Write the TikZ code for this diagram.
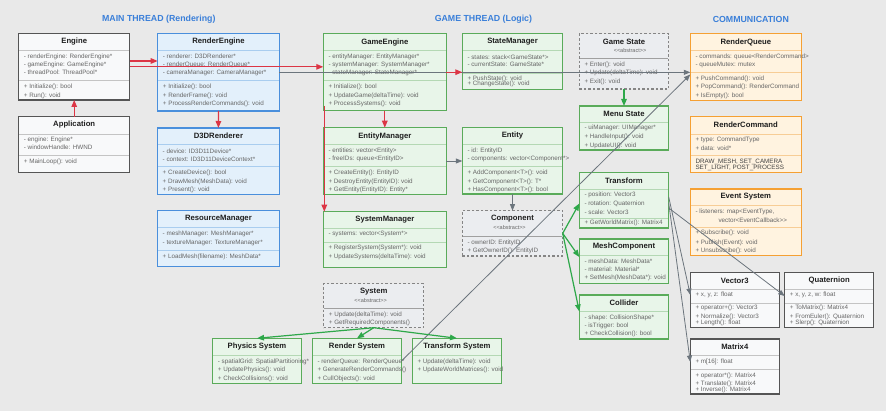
\documentclass[tikz,border=0pt]{standalone}
\usepackage{fontspec}
\setmainfont{Liberation Sans}
\usetikzlibrary{arrows.meta}
\definecolor{bg}{HTML}{E9E9E9}
\definecolor{cgrayB}{HTML}{555555}\definecolor{cgrayF}{HTML}{F8F9FA}\definecolor{cgrayD}{HTML}{C4C4C4}
\definecolor{cblueB}{HTML}{4A8FDC}\definecolor{cblueF}{HTML}{E3F0FB}\definecolor{cblueD}{HTML}{A9CDEF}
\definecolor{cgreenB}{HTML}{5AAB5A}\definecolor{cgreenF}{HTML}{E8F5E9}\definecolor{cgreenD}{HTML}{B4D8B4}
\definecolor{corangeB}{HTML}{F5A033}\definecolor{corangeF}{HTML}{FFF3E0}\definecolor{corangeD}{HTML}{F7CD96}
\definecolor{cabsB}{HTML}{858585}\definecolor{cabsF}{HTML}{EBEDF0}\definecolor{cabsD}{HTML}{A0A0A0}
\definecolor{cred}{HTML}{DC3545}\definecolor{cgreenA}{HTML}{2EA84A}\definecolor{cgrayA}{HTML}{6C757D}
\definecolor{chead}{HTML}{3A7FD9}\definecolor{ctxt}{HTML}{1E1E1E}\definecolor{cln}{HTML}{666666}
\tikzset{
  cbase/.style={line width=1.1pt, inner sep=0pt, outer sep=0pt, anchor=north west, rectangle},
  grayc/.style={cbase, draw=cgrayB, fill=cgrayF},
  bluec/.style={cbase, draw=cblueB, fill=cblueF},
  greenc/.style={cbase, draw=cgreenB, fill=cgreenF},
  orangec/.style={cbase, draw=corangeB, fill=corangeF},
  absc/.style={cbase, draw=cabsB, fill=cabsF, dash pattern=on 2.5pt off 2pt},
  ttl/.style={font=\bfseries\fontsize{7.7}{8}\selectfont, text=ctxt, inner sep=0pt},
  head/.style={font=\bfseries\fontsize{8.8}{10}\selectfont, text=chead, inner sep=0pt},
  ln/.style={font=\fontsize{6.3}{7}\selectfont, text=cln, inner sep=0pt, anchor=west},
  lnd/.style={font=\fontsize{6.3}{7}\selectfont, text=ctxt!85, inner sep=0pt, anchor=west},
  abst/.style={font=\fontsize{5.5}{6}\selectfont, text=cln, inner sep=0pt},
  redarr/.style={draw=cred, line width=1.3pt, -{Triangle[length=7pt,width=5.5pt]}},
  grayarr/.style={draw=cgrayA, line width=0.8pt, -{Triangle[length=6.5pt,width=5pt]}},
  greenarr/.style={draw=cgreenA, line width=1.2pt, -{Triangle[length=7pt,width=5.5pt]}},
}
\newcounter{tn}
\newcommand\cbox[6]{\pgfmathsetmacro\bw{#5-#3}\pgfmathsetmacro\bh{#6-#4}\pgfmathsetmacro\tmpm{(#3+#5)/2}%
  \xdef\curx{#3}\xdef\curxr{#5}\xdef\curm{\tmpm}\xdef\curdc{c#2D}%
  \node[#2c, minimum width=\bw pt, minimum height=\bh pt] (#1) at (#3,#4) {};}
\newcommand\ct[2]{\stepcounter{tn}\node[ttl] (T\arabic{tn}) at (\curm,#1) {#2};}
\newcommand\cab[2][0]{\stepcounter{tn}\node[abst] (T\arabic{tn}) at (\curm+#1,#2) {<{}<abstract>{}>};}
\newcommand\cd[1]{\draw[line width=0.9pt, draw=\curdc] (\curx+0.5,#1) -- (\curxr-0.5,#1);}
\newcommand\cl[2]{\stepcounter{tn}\node[ln] (T\arabic{tn}) at (\curx+5,#1) {#2};}
\begin{document}
\begin{tikzpicture}[x=1pt,y=-1pt]
\fill[bg] (0,0) rectangle (886,411);
\useasboundingbox (0,0) rectangle (886,411);

\node[head] (h1) at (158.8,19.7) {MAIN THREAD (Rendering)};
\node[head] (h2) at (483.4,19.7) {GAME THREAD (Logic)};
\node[head] (h3) at (750.8,19.7) {COMMUNICATION};

% ---------- main thread
\cbox{Engine}{gray}{18.7}{33.7}{129.7}{100}
\ct{42}{Engine}\cd{50.7}
\cl{56.7}{- renderEngine: RenderEngine*}
\cl{64.7}{- gameEngine: GameEngine*}
\cl{72.7}{- threadPool: ThreadPool*}
\cd{80.7}
\cl{87}{+ Initialize(): bool}
\cl{95.7}{+ Run(): void}

\cbox{Application}{gray}{18.7}{116.7}{129.7}{172.3}
\ct{125}{Application}\cd{134}
\cl{140}{- engine: Engine*}
\cl{147.7}{- windowHandle: HWND}
\cd{155.3}
\cl{162.3}{+ MainLoop(): void}

\cbox{RenderEngine}{blue}{157.7}{33.7}{279.3}{111}
\ct{42}{RenderEngine}\cd{50.7}
\cl{56.7}{- renderer: D3DRenderer*}
\cl{64.7}{- renderQueue: RenderQueue*}
\cl{72.7}{- cameraManager: CameraManager*}
\cd{80.7}
\cl{87}{+ Initialize(): bool}
\cl{95.7}{+ RenderFrame(): void}
\cl{104}{+ ProcessRenderCommands(): void}

\cbox{D3DRenderer}{blue}{157.5}{128}{279.3}{194.3}
\ct{135.7}{D3DRenderer}\cd{144.3}
\cl{151}{- device: ID3D11Device*}
\cl{159}{- context: ID3D11DeviceContext*}
\cd{166.7}
\cl{172.7}{+ CreateDevice(): bool}
\cl{181.7}{+ DrawMesh(MeshData): void}
\cl{190}{+ Present(): void}

\cbox{ResourceManager}{blue}{157.5}{210.7}{279.3}{266.7}
\ct{219}{ResourceManager}\cd{227.3}
\cl{234}{- meshManager: MeshManager*}
\cl{242.7}{- textureManager: TextureManager*}
\cd{250.3}
\cl{256.7}{+ LoadMesh(filename): MeshData*}

% ---------- game thread
\cbox{GameEngine}{green}{323.3}{33.7}{446.3}{110.7}
\ct{42.3}{GameEngine}\cd{50.7}
\cl{56.7}{- entityManager: EntityManager*}
\cl{64.7}{- systemManager: SystemManager*}
\cl{72.7}{- stateManager: StateManager*}
\cd{80.7}
\cl{87}{+ Initialize(): bool}
\cl{95.7}{+ UpdateGame(deltaTime): void}
\cl{104}{+ ProcessSystems(): void}

\cbox{EntityManager}{green}{323.3}{127.7}{446.3}{194.3}
\ct{136.3}{EntityManager}\cd{144.7}
\cl{151}{- entities: vector<Entity>}
\cl{159}{- freeIDs: queue<EntityID>}
\cd{166.7}
\cl{172.7}{+ CreateEntity(): EntityID}
\cl{181.7}{+ DestroyEntity(EntityID): void}
\cl{190}{+ GetEntity(EntityID): Entity*}

\cbox{SystemManager}{green}{323.3}{211.7}{446.5}{267.3}
\ct{219.3}{SystemManager}\cd{228.3}
\cl{233.7}{- systems: vector<System*>}
\cd{242}
\cl{248}{+ RegisterSystem(System*): void}
\cl{257}{+ UpdateSystems(deltaTime): void}

\cbox{StateManager}{green}{462.3}{33.7}{562.7}{89.3}
\ct{42}{StateManager}\cd{50.7}
\cl{57}{- states: stack<GameState*>}
\cl{64.3}{- currentState: GameState*}
\cd{73.3}
\cl{78.7}{+ PushState(): void}
\cl{83.5}{+ ChangeState(): void}

\cbox{Entity}{green}{462.3}{127.7}{562.7}{194}
\ct{135.7}{Entity}\cd{144.3}
\cl{151}{- id: EntityID}
\cl{159}{- components: vector<Component*>}
\cd{166.7}
\cl{172.7}{+ AddComponent<T>(): void}
\cl{181.7}{+ GetComponent<T>(): T*}
\cl{190}{+ HasComponent<T>(): bool}

\cbox{Component}{abs}{462.3}{210.7}{562.7}{256}
\ct{219}{Component}\cab[-3]{228}\cd{236.7}
\cl{242.7}{- ownerID: EntityID}
\cl{250.7}{+ GetOwnerID(): EntityID}

\cbox{GameState}{abs}{579.3}{33.7}{668.7}{89}
\ct{42}{Game State}\cab[6]{50.7}\cd{58.3}
\cl{64.7}{+ Enter(): void}
\cl{73}{+ Update(deltaTime): void}
\cl{81.7}{+ Exit(): void}

\cbox{MenuState}{green}{579.3}{106}{668.7}{150}
\ct{113.7}{Menu State}\cd{122.3}
\cl{128.3}{- uiManager: UIManager*}
\cl{137}{+ HandleInput(): void}
\cl{145.7}{+ UpdateUI(): void}

\cbox{Transform}{green}{579.3}{172.7}{668.7}{228}
\ct{181}{Transform}\cd{189.7}
\cl{195.3}{- position: Vector3}
\cl{203.7}{- rotation: Quaternion}
\cl{212}{- scale: Vector3}
\cd{218.3}
\cl{223.3}{+ GetWorldMatrix(): Matrix4}

\cbox{MeshComponent}{green}{579.3}{239}{668.7}{283.3}
\ct{246.3}{MeshComponent}\cd{255.7}
\cl{261.7}{- meshData: MeshData*}
\cl{269.7}{- material: Material*}
\cl{278.3}{+ SetMesh(MeshData*): void}

\cbox{Collider}{green}{579.3}{295}{668.7}{339}
\ct{302.7}{Collider}\cd{311.7}
\cl{317.7}{- shape: CollisionShape*}
\cl{326}{- isTrigger: bool}
\cl{334}{+ CheckCollision(): bool}

\cbox{System}{abs}{323.7}{283.7}{423.7}{327.7}
\ct{292}{System}\cab[-3]{300.3}\cd{308.3}
\cl{314.7}{+ Update(deltaTime): void}
\cl{323}{+ GetRequiredComponents()}

\cbox{PhysicsSystem}{green}{212.7}{338.3}{301.3}{383.3}
\ct{347}{Physics System}\cd{355.7}
\cl{362}{- spatialGrid: SpatialPartitioning*}
\cl{370.3}{+ UpdatePhysics(): void}
\cl{378.7}{+ CheckCollisions(): void}

\cbox{RenderSystem}{green}{312.3}{338.3}{401.7}{383.3}
\ct{347}{Render System}\cd{355.7}
\cl{362}{- renderQueue: RenderQueue*}
\cl{370.3}{+ GenerateRenderCommands()}
\cl{378.7}{+ CullObjects(): void}

\cbox{TransformSystem}{green}{412.3}{338.3}{501.7}{383.3}
\ct{347}{Transform System}\cd{355.7}
\cl{362}{+ Update(deltaTime): void}
\cl{370.3}{+ UpdateWorldMatrices(): void}

% ---------- communication
\cbox{RenderQueue}{orange}{690.3}{33.7}{801.3}{100.3}
\ct{42}{RenderQueue}\cd{50.7}
\cl{57}{- commands: queue<RenderCommand>}
\cl{65}{- queueMutex: mutex}
\cd{72.7}
\cl{79}{+ PushCommand(): void}
\cl{87.3}{+ PopCommand(): RenderCommand}
\cl{96}{+ IsEmpty(): bool}

\cbox{RenderCommand}{orange}{690.3}{116.7}{801.3}{172.3}
\ct{125}{RenderCommand}\cd{134}
\cl{140}{+ type: CommandType}
\cl{148}{+ data: void*}
\cd{155.3}
\node[lnd] (rc1) at (695.3,161.5) {DRAW\_MESH, SET\_CAMERA};
\node[lnd] (rc2) at (695.3,167.8) {SET\_LIGHT, POST\_PROCESS};

\cbox{EventSystem}{orange}{690.3}{189}{801.3}{255.7}
\ct{196.7}{Event System}\cd{205.3}
\cl{212.3}{- listeners: map<EventType,}
\node[ln] (es2) at (718.3,220) {vector<EventCallback>{}>};
\cd{227.7}
\cl{233.3}{+ Subscribe(): void}
\cl{242.7}{+ Publish(Event): void}
\cl{250.7}{+ Unsubscribe(): void}

\cbox{Vector3}{gray}{690.3}{272.3}{779.3}{327.3}
\ct{280.7}{Vector3}\cd{289.3}
\cl{295}{+ x, y, z: float}
\cd{303}
\cl{308.3}{+ operator+(): Vector3}
\cl{317.3}{+ Normalize(): Vector3}
\cl{322.7}{+ Length(): float}

\cbox{Quaternion}{gray}{784.7}{272.3}{873.7}{327.3}
\ct{280.7}{Quaternion}\cd{289.3}
\cl{295}{+ x, y, z, w: float}
\cd{303}
\cl{308.3}{+ ToMatrix(): Matrix4}
\cl{317.3}{+ FromEuler(): Quaternion}
\cl{322.7}{+ Slerp(): Quaternion}

\cbox{Matrix4}{gray}{690.3}{339}{779.3}{394}
\ct{346.7}{Matrix4}\cd{355.3}
\cl{362}{+ m[16]: float}
\cd{369.7}
\cl{376}{+ operator*(): Matrix4}
\cl{383.7}{+ Translate(): Matrix4}
\cl{390}{+ Inverse(): Matrix4}

% ---------- connectors
\draw[grayarr] (RenderEngine.east) -- (RenderQueue.west |- RenderEngine.east);
\draw[grayarr] (RenderSystem.east) -- (RenderQueue.west |- 0,74.5);
\draw[grayarr] (Transform.east |- 0,197) -- (Vector3.west |- 0,295);
\draw[grayarr] (Transform.east |- 0,208) -- (Quaternion.west |- 0,296);
\draw[grayarr] (Transform.east |- 0,203) -- (Matrix4.west |- 0,362);
\draw[grayarr] (EntityManager.east) -- (Entity.west |- EntityManager.east);
\draw[grayarr] (Entity.south) -- (Component.north);

\draw[redarr] (Application.north) -- (Engine.south);
\draw[redarr] (Engine.east |- 0,61) -- (RenderEngine.west |- 0,61);
\draw[redarr] (Engine.east) -- (GameEngine.west |- Engine.east);
\draw[redarr] (RenderEngine.south) -- (D3DRenderer.north);
\draw[redarr] (GameEngine.south) -- (EntityManager.north);
\path (GameEngine.west |- 0,106) ++(1,0) coordinate (ge1);
\path (SystemManager.north west) ++(1,0) coordinate (sm1);
\draw[redarr] (ge1) -- (sm1);
\draw[redarr] (GameEngine.east) -- (StateManager.west |- GameEngine.east);

\draw[greenarr] (GameState.south) -- (MenuState.north);
\draw[greenarr] (Component.east) -- (Transform.west |- 0,203.5);
\draw[greenarr] (Component.east) -- (MeshComponent.west |- 0,257);
\draw[greenarr] (Component.east) -- (Collider.west |- 0,311.5);
\draw[greenarr] (System.south) -- (PhysicsSystem.north);
\draw[greenarr] (System.south) -- (RenderSystem.north);
\draw[greenarr] (System.south) -- (TransformSystem.north);
\end{tikzpicture}
\end{document}
